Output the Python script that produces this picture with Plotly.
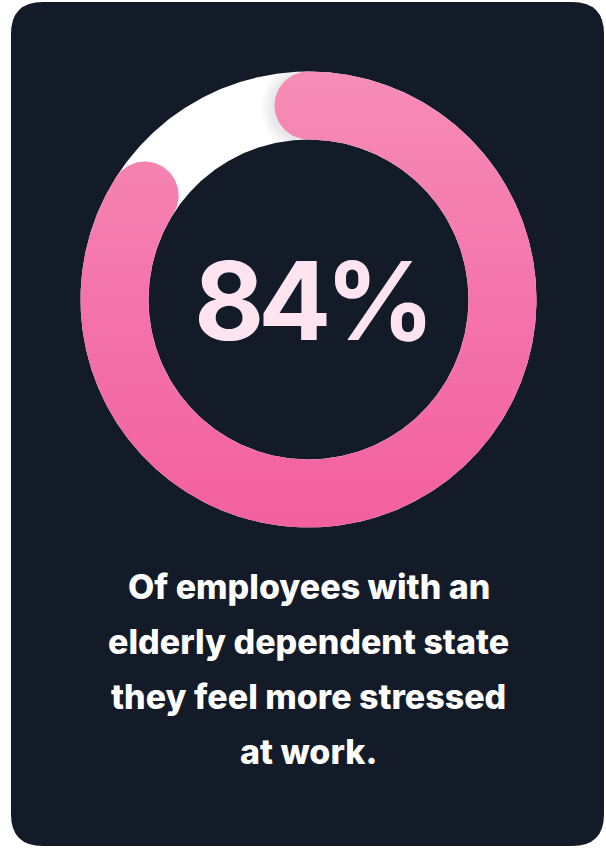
import numpy as np
import plotly.graph_objects as go

# --- data -------------------------------------------------------------
share_pct = 84
headline = f"{share_pct}%"
caption_lines = [
    "Of employees with an",
    "elderly dependent state",
    "they feel more stressed",
    "at work.",
]

# --- geometry / style (pixel space, y grows downward) -----------------
W, H = 606, 848
CX, CY = 308.5, 299.5
R_OUT, R_IN = 228.0, 160.0
R_MID = (R_OUT + R_IN) / 2
HALF = (R_OUT - R_IN) / 2

CARD = dict(x0=11, y0=2, x1=604, y1=846, r=32)
CARD_COLOR = "#131a28"
TRACK_COLOR = "#ffffff"
# y axis is reversed, so the low end of the scale sits at the bottom
PINK_SCALE = [[0.0, "#f2609e"], [0.5, "#f474aa"], [1.0, "#f68db6"]]
HEAD_COLOR = "#fde4ef"
FONT = "Inter"


def pt(r, theta):
    """theta in radians, clockwise from 12 o'clock."""
    return CX + r * np.sin(theta), CY - r * np.cos(theta)


def arc_polygon(t0, t1, n=400):
    th = np.linspace(t0, t1, n)
    ox, oy = pt(R_OUT, th)
    ix, iy = pt(R_IN, th[::-1])
    phi = np.linspace(0, np.pi, 60)
    # end cap
    px, py = pt(R_MID, t1)
    u = np.array([np.sin(t1), -np.cos(t1)])
    t = np.array([np.cos(t1), np.sin(t1)])
    ex = px + HALF * (np.cos(phi) * u[0] + np.sin(phi) * t[0])
    ey = py + HALF * (np.cos(phi) * u[1] + np.sin(phi) * t[1])
    # start cap
    qx, qy = pt(R_MID, t0)
    u0 = np.array([np.sin(t0), -np.cos(t0)])
    t0v = np.array([np.cos(t0), np.sin(t0)])
    sx = qx - HALF * (np.cos(phi) * u0[0] + np.sin(phi) * t0v[0])
    sy = qy - HALF * (np.cos(phi) * u0[1] + np.sin(phi) * t0v[1])
    xs = np.concatenate([ox, ex, ix, sx])
    ys = np.concatenate([oy, ey, iy, sy])
    return xs, ys


fig = go.Figure()

# white background track (annulus with a seam)
th = np.linspace(0, 2 * np.pi, 721)
ox, oy = pt(R_OUT, th)
ix, iy = pt(R_IN, th[::-1])
fig.add_trace(go.Scatter(
    x=np.concatenate([ox, ix]), y=np.concatenate([oy, iy]),
    mode="lines", fill="toself", fillcolor=TRACK_COLOR,
    line=dict(width=0), hoverinfo="skip", showlegend=False,
))

# soft shadow beneath the start cap, kept inside the ring
start_x, start_y = pt(R_MID, 0.0)
for k in range(12, 0, -1):
    ang = np.linspace(0, 2 * np.pi, 120)
    sx = start_x - 2 + (HALF + k) * np.cos(ang)
    sy = start_y + 2 + (HALF + k) * np.sin(ang)
    dx, dy = sx - CX, sy - CY
    d = np.hypot(dx, dy)
    dc = np.clip(d, R_IN, R_OUT)
    sx, sy = CX + dx / d * dc, CY + dy / d * dc
    fig.add_trace(go.Scatter(
        x=sx, y=sy, mode="lines", fill="toself",
        fillcolor="rgba(0,0,0,0.009)", line=dict(width=0),
        hoverinfo="skip", showlegend=False,
    ))

# pink value arc
ax, ay = arc_polygon(0.0, 2 * np.pi * share_pct / 100)
fig.add_trace(go.Scatter(
    x=ax, y=ay, mode="lines", fill="toself",
    fillgradient=dict(type="vertical", colorscale=PINK_SCALE),
    line=dict(width=0), hoverinfo="skip", showlegend=False,
))

# card background
x0, y0, x1, y1, r = CARD["x0"], CARD["y0"], CARD["x1"], CARD["y1"], CARD["r"]
card_path = (
    f"M {x0 + r},{y0} L {x1 - r},{y0} Q {x1},{y0} {x1},{y0 + r} "
    f"L {x1},{y1 - r} Q {x1},{y1} {x1 - r},{y1} "
    f"L {x0 + r},{y1} Q {x0},{y1} {x0},{y1 - r} "
    f"L {x0},{y0 + r} Q {x0},{y0} {x0 + r},{y0} Z"
)
fig.add_shape(type="path", path=card_path, fillcolor=CARD_COLOR,
              line=dict(width=0), layer="below", xref="x", yref="y")

# headline value
fig.add_annotation(
    x=CX + 3, y=300, xref="x", yref="y",
    text=f'<span style="letter-spacing:-6px">{headline}</span>',
    showarrow=False,
    font=dict(family=FONT, size=108, color=HEAD_COLOR, weight=700),
    xanchor="center", yanchor="middle",
)

# caption
for i, line in enumerate(caption_lines):
    fig.add_annotation(
        x=CX, y=586 + 55 * i, xref="x", yref="y", text=line, showarrow=False,
        font=dict(family=FONT, size=34, color="#ffffff", weight=800),
        xanchor="center", yanchor="middle",
    )

fig.update_layout(
    width=W, height=H, margin=dict(l=0, r=0, t=0, b=0),
    paper_bgcolor="#ffffff", plot_bgcolor="rgba(0,0,0,0)",
    xaxis=dict(range=[0, W], visible=False, fixedrange=True),
    yaxis=dict(range=[H, 0], visible=False, fixedrange=True),
    showlegend=False,
)

fig.write_html("out.html", config={"displayModeBar": False})
